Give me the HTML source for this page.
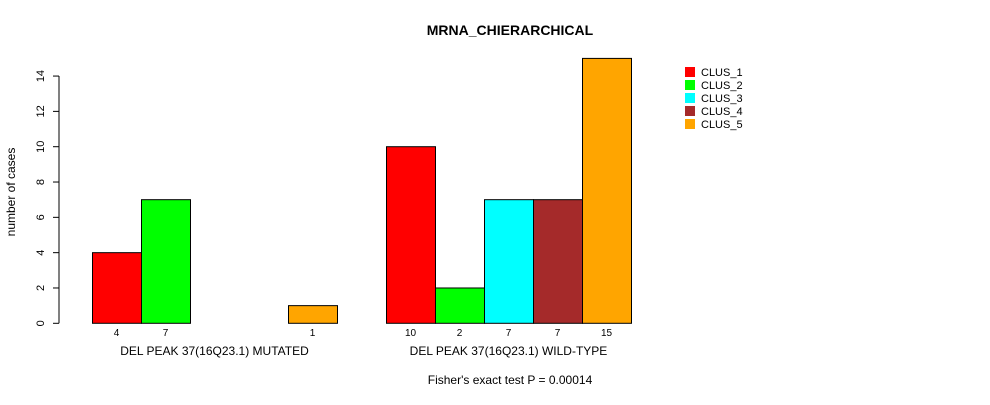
<!DOCTYPE html>
<html><head><style>body{margin:0;background:#fff}svg text{font-family:"Liberation Sans",Arial,sans-serif}</style></head>
<body>
<svg width="990" height="400" id="c">
<text x="510" y="35" font-size="14" font-weight="bold" text-anchor="middle">MRNA_CHIERARCHICAL</text>
<text transform="translate(15,192) rotate(-90)" font-size="12" text-anchor="middle">number of cases</text>
<text x="510" y="384" font-size="12" text-anchor="middle">Fisher's exact test P = 0.00014</text>
<g id="g"></g>
</svg>
<script>
const groups=["DEL PEAK 37(16Q23.1) MUTATED","DEL PEAK 37(16Q23.1) WILD-TYPE"];
const seriesNames=["CLUS_1","CLUS_2","CLUS_3","CLUS_4","CLUS_5"];
const colors=["#ff0000","#00ff00","#00ffff","#a52a2a","#ffa500"];
const mutated=[4,7,0,0,1];
const wildtype=[10,2,7,7,15];
const yTicks=[0,2,4,6,8,10,12,14];
const values=[mutated,wildtype];
const NS="http://www.w3.org/2000/svg",g=document.getElementById('g');
const y=v=>323.3-v*17.66;
const bw=49,gx=[92,386];
function mk(t,a){const e=document.createElementNS(NS,t);for(const k in a)e.setAttribute(k,a[k]);g.appendChild(e);return e;}
let ax=mk('line',{x1:59,x2:59,y1:y(0),y2:y(14),stroke:'#000'});


yTicks.forEach(t=>{
 const l=mk('line',{x1:53,x2:59,y1:y(t),y2:y(t),stroke:'#000'});
 
 
 const tx=mk('text',{transform:`translate(44,${y(t)}) rotate(-90)`,'font-size':11,'text-anchor':'middle'});
 tx.textContent=t;
 
 
});
values.forEach((vals,gi)=>{
 vals.forEach((v,i)=>{
  const x=gx[gi]+i*bw;
  const r=mk('rect',{x:x+0.5,y:y(v),width:bw,height:y(0)-y(v),fill:colors[i],stroke:'#000'});
  
  
  if(v>0){
   const tx=mk('text',{x:x+bw/2,y:336,'font-size':10,'text-anchor':'middle'});
   tx.textContent=v;
   
   
  }
 });
 const gl=mk('text',{x:gx[gi]+bw*2.5,y:355,'font-size':12,'text-anchor':'middle'});
 gl.textContent=groups[gi];
 
 
});
seriesNames.forEach((n,i)=>{
 const r=mk('rect',{x:685,y:67+i*13,width:10,height:10,fill:colors[i]});
 
 
 const t=mk('text',{x:701,y:76+i*13,'font-size':11});
 t.textContent=n;
 
 
});
</script>
</body></html>
